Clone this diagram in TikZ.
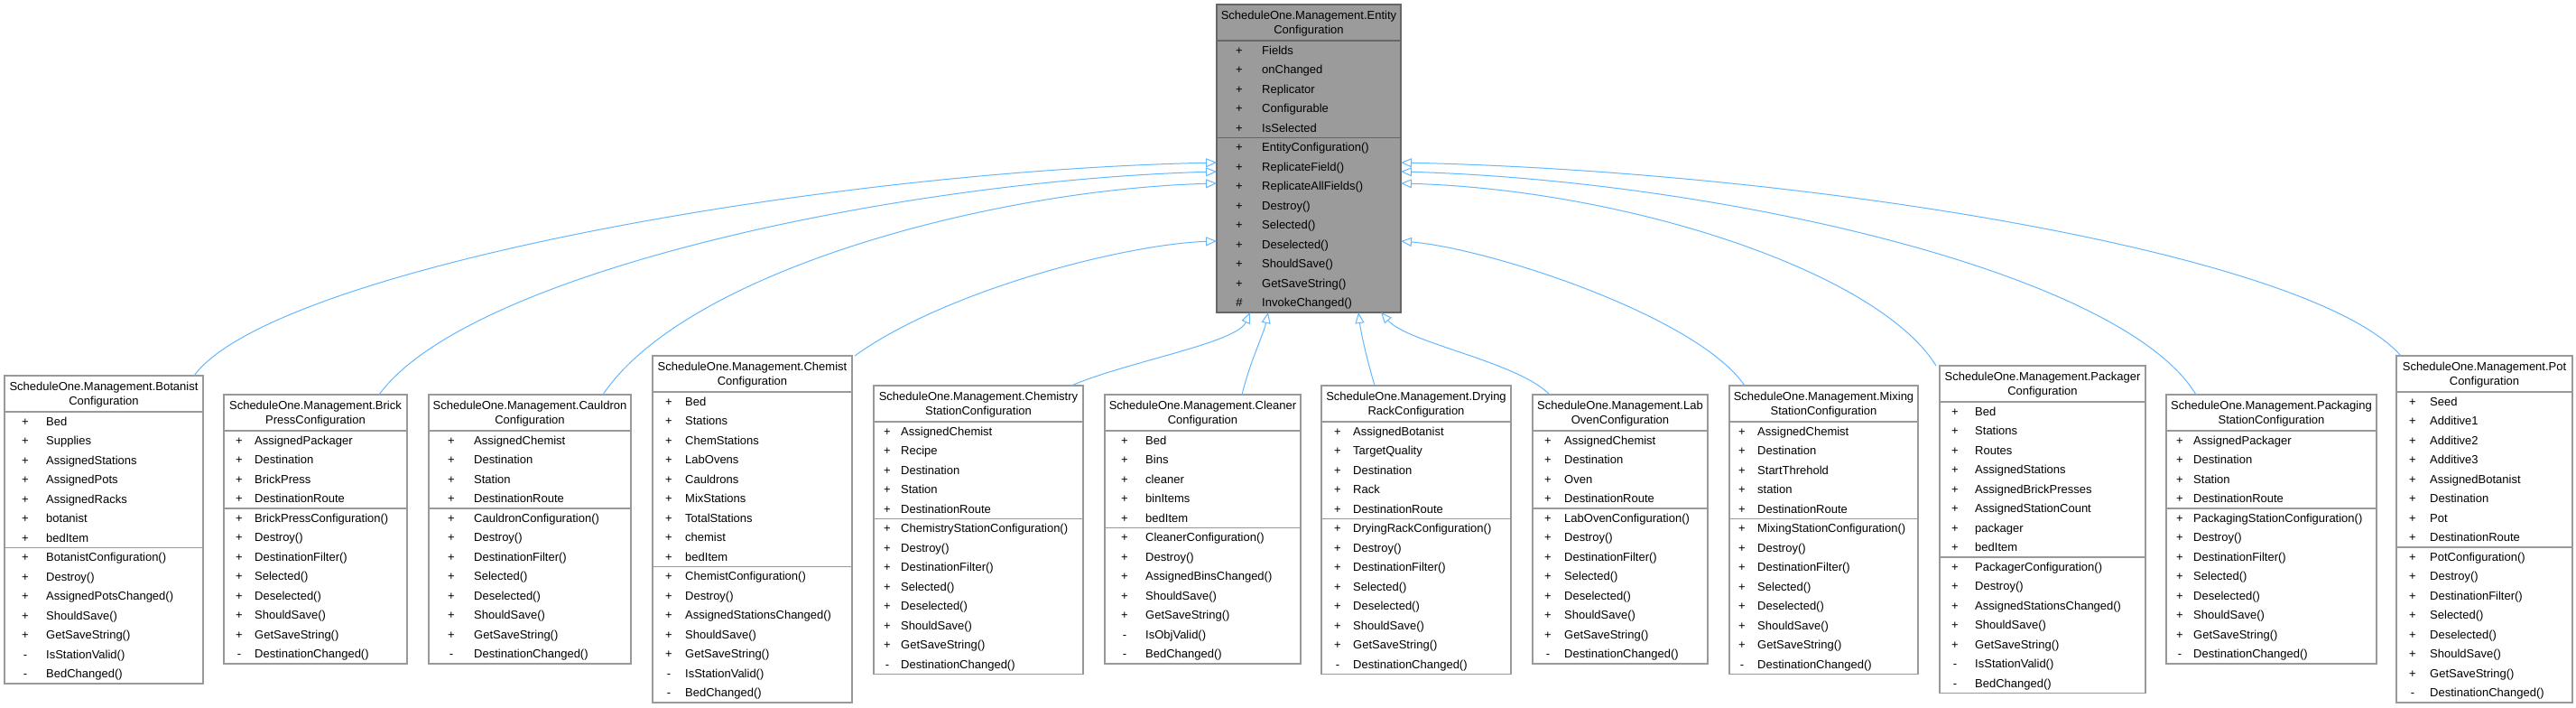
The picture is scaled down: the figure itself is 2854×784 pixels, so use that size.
\documentclass[tikz,border=0pt]{standalone}
\usepackage{fontspec}
\setmainfont{Liberation Sans}
\usetikzlibrary{arrows.meta,calc}
\definecolor{edgeblue}{HTML}{63B8FF}
\definecolor{boxgray}{HTML}{999999}
\definecolor{topfill}{HTML}{9B9B9B}
\definecolor{topline}{HTML}{666666}
\def\visp{+}\def\vism{-}\def\vish{\#}
\tikzset{
  clsframe/.style={draw=boxgray, fill=white, line width=1.2pt, inner sep=0pt, outer sep=0pt},
  divline/.style={draw=boxgray, line width=1.2pt},
  titletext/.style={inner sep=0pt, align=center, font=\fontsize{13}{16}\selectfont},
  vistext/.style={inner sep=0pt, anchor=base, font=\fontsize{13}{15}\selectfont},
  rowtext/.style={inner sep=0pt, anchor=base west, font=\fontsize{13}{15}\selectfont},
  inh/.style={draw=edgeblue, line width=1pt, -{Triangle[open, length=12pt, width=10pt]}}
}
\newcommand\clsbox[9]{%
  \def\bl{#2}\def\bt{#3}\def\br{#4}%
  \gdef\nf{0}\foreach \vv/\tx [count=\i] in {#8}{\xdef\nf{\i}}%
  \gdef\nm{0}\foreach \vv/\tx [count=\i] in {#9}{\xdef\nm{\i}}%
  \pgfmathsetmacro\ytd{\bt+40}%
  \pgfmathsetmacro\yfd{\ytd+\nf*21.5}%
  \pgfmathsetmacro\yb{\yfd+\nm*21.5}%
  \pgfmathsetmacro\bw{\br-\bl}\pgfmathsetmacro\bh{\yb-\bt}%
  \node[clsframe, minimum width=\bw pt, minimum height=\bh pt, anchor=north west] (#1) at (\bl,\bt) {};%
  \draw[divline] (\bl,\ytd) -- (\br,\ytd);%
  \draw[divline] (\bl,\yfd) -- (\br,\yfd);%
  \node[titletext] at ({(\bl+\br)/2},\bt+21) {#5};%
  \foreach \vv/\tx [count=\i] in {#8}{%
    \pgfmathsetmacro\yy{\ytd+(\i-0.5)*21.5+4.6}%
    \node[vistext] at (\bl+#6,\yy) {\csname vis\vv\endcsname};%
    \node[rowtext] at (\bl+#7,\yy) {\tx};}%
  \foreach \vv/\tx [count=\i] in {#9}{%
    \pgfmathsetmacro\yy{\yfd+(\i-0.5)*21.5+4.6}%
    \node[vistext] at (\bl+#6,\yy) {\csname vis\vv\endcsname};%
    \node[rowtext] at (\bl+#7,\yy) {\tx};}%
}
\begin{document}
\begin{tikzpicture}[x=1pt,y=-1pt]
\useasboundingbox (0,0) rectangle (2854,784);
\fill[white] (0,0) rectangle (2854,784);

\begin{scope}[clsframe/.style={draw=topline, fill=topfill, line width=1.2pt, inner sep=0pt, outer sep=0pt},
  divline/.style={draw=topline, line width=1.2pt}]
\clsbox{entity}{1348}{5}{1552}{ScheduleOne.Management.Entity\\Configuration}{25}{50}
 {p/Fields,p/onChanged,p/Replicator,p/Configurable,p/IsSelected}
 {p/EntityConfiguration(),p/ReplicateField(),p/ReplicateAllFields(),p/Destroy(),p/Selected(),p/Deselected(),p/ShouldSave(),p/GetSaveString(),h/InvokeChanged()}
\end{scope}

\clsbox{botanist}{5}{416}{225}{ScheduleOne.Management.Botanist\\Configuration}{23}{46}
 {p/Bed,p/Supplies,p/AssignedStations,p/AssignedPots,p/AssignedRacks,p/botanist,p/bedItem}
 {p/BotanistConfiguration(),p/Destroy(),p/AssignedPotsChanged(),p/ShouldSave(),p/GetSaveString(),m/IsStationValid(),m/BedChanged()}

\clsbox{brick}{248}{437}{451}{ScheduleOne.Management.Brick\\PressConfiguration}{17}{34}
 {p/AssignedPackager,p/Destination,p/BrickPress,p/DestinationRoute}
 {p/BrickPressConfiguration(),p/Destroy(),p/DestinationFilter(),p/Selected(),p/Deselected(),p/ShouldSave(),p/GetSaveString(),m/DestinationChanged()}

\clsbox{cauldron}{475}{437}{699}{ScheduleOne.Management.Cauldron\\Configuration}{25}{50}
 {p/AssignedChemist,p/Destination,p/Station,p/DestinationRoute}
 {p/CauldronConfiguration(),p/Destroy(),p/DestinationFilter(),p/Selected(),p/Deselected(),p/ShouldSave(),p/GetSaveString(),m/DestinationChanged()}

\clsbox{chemist}{723}{394}{944}{ScheduleOne.Management.Chemist\\Configuration}{18}{36}
 {p/Bed,p/Stations,p/ChemStations,p/LabOvens,p/Cauldrons,p/MixStations,p/TotalStations,p/chemist,p/bedItem}
 {p/ChemistConfiguration(),p/Destroy(),p/AssignedStationsChanged(),p/ShouldSave(),p/GetSaveString(),m/IsStationValid(),m/BedChanged()}

\clsbox{chemistry}{968}{427}{1200}{ScheduleOne.Management.Chemistry\\StationConfiguration}{15}{30}
 {p/AssignedChemist,p/Recipe,p/Destination,p/Station,p/DestinationRoute}
 {p/ChemistryStationConfiguration(),p/Destroy(),p/DestinationFilter(),p/Selected(),p/Deselected(),p/ShouldSave(),p/GetSaveString(),m/DestinationChanged()}

\clsbox{cleaner}{1224}{437}{1441}{ScheduleOne.Management.Cleaner\\Configuration}{22}{45}
 {p/Bed,p/Bins,p/cleaner,p/binItems,p/bedItem}
 {p/CleanerConfiguration(),p/Destroy(),p/AssignedBinsChanged(),p/ShouldSave(),p/GetSaveString(),m/IsObjValid(),m/BedChanged()}

\clsbox{drying}{1464}{427}{1674}{ScheduleOne.Management.Drying\\RackConfiguration}{18}{35}
 {p/AssignedBotanist,p/TargetQuality,p/Destination,p/Rack,p/DestinationRoute}
 {p/DryingRackConfiguration(),p/Destroy(),p/DestinationFilter(),p/Selected(),p/Deselected(),p/ShouldSave(),p/GetSaveString(),m/DestinationChanged()}

\clsbox{laboven}{1698}{437}{1892}{ScheduleOne.Management.Lab\\OvenConfiguration}{17}{35}
 {p/AssignedChemist,p/Destination,p/Oven,p/DestinationRoute}
 {p/LabOvenConfiguration(),p/Destroy(),p/DestinationFilter(),p/Selected(),p/Deselected(),p/ShouldSave(),p/GetSaveString(),m/DestinationChanged()}

\clsbox{mixing}{1916}{427}{2125}{ScheduleOne.Management.Mixing\\StationConfiguration}{14}{31}
 {p/AssignedChemist,p/Destination,p/StartThrehold,p/station,p/DestinationRoute}
 {p/MixingStationConfiguration(),p/Destroy(),p/DestinationFilter(),p/Selected(),p/Deselected(),p/ShouldSave(),p/GetSaveString(),m/DestinationChanged()}

\clsbox{packager}{2149}{405}{2377}{ScheduleOne.Management.Packager\\Configuration}{17}{39}
 {p/Bed,p/Stations,p/Routes,p/AssignedStations,p/AssignedBrickPresses,p/AssignedStationCount,p/packager,p/bedItem}
 {p/PackagerConfiguration(),p/Destroy(),p/AssignedStationsChanged(),p/ShouldSave(),p/GetSaveString(),m/IsStationValid(),m/BedChanged()}

\clsbox{packaging}{2400}{437}{2633}{ScheduleOne.Management.Packaging\\StationConfiguration}{15}{30}
 {p/AssignedPackager,p/Destination,p/Station,p/DestinationRoute}
 {p/PackagingStationConfiguration(),p/Destroy(),p/DestinationFilter(),p/Selected(),p/Deselected(),p/ShouldSave(),p/GetSaveString(),m/DestinationChanged()}

\clsbox{pot}{2655}{394}{2850}{ScheduleOne.Management.Pot\\Configuration}{18}{37}
 {p/Seed,p/Additive1,p/Additive2,p/Additive3,p/AssignedBotanist,p/Destination,p/Pot,p/DestinationRoute}
 {p/PotConfiguration(),p/Destroy(),p/DestinationFilter(),p/Selected(),p/Deselected(),p/ShouldSave(),p/GetSaveString(),m/DestinationChanged()}

% inheritance connectors
\draw[inh] ($(botanist.north west)+(210,0)$) .. controls (300,300) and (900,190) .. ($(entity.north west)+(0,175)$);
\draw[inh] ($(brick.north west)+(172,0)$) .. controls (520,300) and (1000,200) .. ($(entity.north west)+(0,185)$);
\draw[inh] ($(cauldron.north west)+(193,0)$) .. controls (760,300) and (1100,210) .. ($(entity.north west)+(0,198)$);
\draw[inh] ($(chemist.north west)+(224,0)$) .. controls (1050,320) and (1250,270) .. ($(entity.north west)+(0,262)$);
\draw[inh] ($(chemistry.north west)+(219,0)$) .. controls (1250,400) and (1370,380) .. ($(entity.south west)+(37,0)$);
\draw[inh] ($(cleaner.north west)+(152,0)$) .. controls (1385,400) and (1400,370) .. ($(entity.south west)+(57,0)$);
\draw[inh] ($(drying.north west)+(59,0)$) .. controls (1515,400) and (1508,370) .. ($(entity.south west)+(157,0)$);
\draw[inh] ($(laboven.north west)+(19,0)$) .. controls (1680,400) and (1560,380) .. ($(entity.south west)+(182,0)$);
\draw[inh] ($(mixing.north west)+(17,0)$) .. controls (1880,350) and (1650,275) .. ($(entity.north east)+(0,262)$);
\draw[inh] ($(packager.north west)+(-4,0)$) .. controls (2080,300) and (1800,210) .. ($(entity.north east)+(0,198)$);
\draw[inh] ($(packaging.north west)+(33,0)$) .. controls (2350,300) and (1900,200) .. ($(entity.north east)+(0,185)$);
\draw[inh] ($(pot.north west)+(5,0)$) .. controls (2560,280) and (2000,190) .. ($(entity.north east)+(0,175)$);
\end{tikzpicture}
\end{document}
